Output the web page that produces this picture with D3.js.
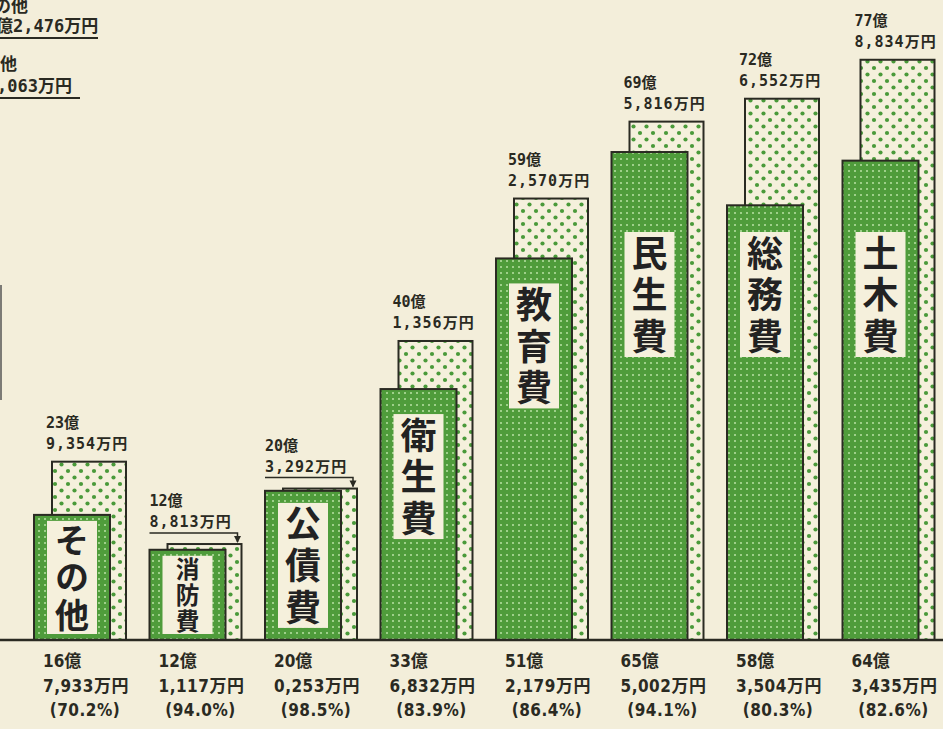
<!DOCTYPE html>
<html>
<head>
<meta charset="utf-8">
<script src="https://cdn.jsdelivr.net/npm/d3@7"></script>
<style>
	body { margin: 0; background: #f3eeda; overflow: hidden; }
	svg { display: block; }
	.val { font-family: "DejaVu Sans Mono", "Noto Sans CJK JP", sans-serif; font-weight: 700; font-size: 15px; fill: #2a2a22; }
	.cut { font-family: "DejaVu Sans Mono", "Noto Sans CJK JP", sans-serif; font-weight: 700; font-size: 17px; fill: #2a2a22; }
	.bottom { font-family: "DejaVu Sans Condensed", "DejaVu Sans", "Noto Sans CJK JP", sans-serif; font-stretch: condensed; font-weight: 700; font-size: 17px; fill: #2a2a22; }
	.cat { font-family: "Noto Sans CJK JP", sans-serif; font-weight: 700; fill: #222; writing-mode: vertical-rl; }
</style>
</head>
<body>
<div id="chart"></div>
<script>
// values in 万円
const categories = ["その他", "消防費", "公債費", "衛生費", "教育費", "民生費", "総務費", "土木費"];
const budget = [239354, 128813, 203292, 401356, 592570, 695816, 726552, 778834];
const actual = [167933, 121117, 200253, 336832, 512179, 655002, 583504, 643435];
const rates = ["70.2", "94.0", "98.5", "83.9", "86.4", "94.1", "80.3", "82.6"];

// labels of the neighbouring chart, cut off at the left edge
const cutTop = ["の他", "億2,476万円"];
const cutSecond = ["他", ",063万円"];

const width = 943;
const height = 729;
const baseY = 640;
const ink = "#2a2a22";
const green = "#4f9c3b";

const data = categories.map((c, i) => ({name: c, budget: budget[i], actual: actual[i], rate: rates[i]}));

const x = d3.scaleBand().domain(categories).range([34, 34 + 8 * 115.5]).padding(0);
const y = d3.scaleLinear().domain([0, 800000]).range([baseY, baseY - 596]);

const barW = 76;
const budgetOffset = 18;
const budgetW = 74;

const oku = (v) => `${Math.floor(v / 10000)}億`;
const man = (v) => {
	const s = String(v % 10000).padStart(4, "0");
	return `${s[0]},${s.slice(1)}万円`;
};

const svg = d3.select("#chart")
	.append("svg")
	.attr("width", width)
	.attr("height", height);

svg.append("rect").attr("width", width).attr("height", height).attr("fill", "#f3eeda");

const defs = svg.append("defs");

// coarse green dots for the budget bars
const big = defs.append("pattern")
	.attr("id", "bigDots")
	.attr("patternUnits", "userSpaceOnUse")
	.attr("width", 13)
	.attr("height", 13);
big.append("rect").attr("width", 13).attr("height", 13).attr("fill", "#f5f0dc");
big.append("circle").attr("cx", 3).attr("cy", 3).attr("r", 2.1).attr("fill", "#4a9a3a");
big.append("circle").attr("cx", 9.5).attr("cy", 9.5).attr("r", 2.1).attr("fill", "#4a9a3a");

// fine light dots on the solid green
const small = defs.append("pattern")
	.attr("id", "smallDots")
	.attr("patternUnits", "userSpaceOnUse")
	.attr("width", 6)
	.attr("height", 6);
small.append("rect").attr("width", 6).attr("height", 6).attr("fill", green);
small.append("circle").attr("cx", 3).attr("cy", 3).attr("r", 1).attr("fill", "#b9e2a4");

// budget bars (behind)
svg.selectAll(".budget")
	.data(data)
	.enter()
	.append("rect")
	.attr("class", "budget")
	.attr("x", (d) => x(d.name) + budgetOffset)
	.attr("y", (d) => y(d.budget))
	.attr("width", budgetW)
	.attr("height", (d) => baseY - y(d.budget))
	.attr("fill", "url(#bigDots)")
	.attr("stroke", ink)
	.attr("stroke-width", 2);

// actual bars
svg.selectAll(".actual")
	.data(data)
	.enter()
	.append("rect")
	.attr("class", "actual")
	.attr("x", (d) => x(d.name))
	.attr("y", (d) => y(d.actual))
	.attr("width", barW)
	.attr("height", (d) => baseY - y(d.actual))
	.attr("fill", "url(#smallDots)")
	.attr("stroke", ink)
	.attr("stroke-width", 2);

// category name boxes
const boxH = (d) => Math.min(baseY - y(d.actual) - 12, 125);
const boxTop = (d) => {
	const barH = baseY - y(d.actual);
	return Math.max(y(d.actual) + Math.min(25, (barH - boxH(d)) / 2), 232);
};

const cats = svg.selectAll(".catbox")
	.data(data)
	.enter()
	.append("g")
	.attr("class", "catbox");

cats.append("rect")
	.attr("x", (d) => x(d.name) + 13)
	.attr("y", boxTop)
	.attr("width", barW - 26)
	.attr("height", boxH)
	.attr("fill", "#f5f0dc");

// vertical name, one text per bar, spread over the box
cats.each(function (d) {
	const h = boxH(d);
	const n = Array.from(d.name).length;
	const fs = Math.min(36, h / 3.3);
	const gap = h / n - fs;
	d3.select(this)
		.append("text")
		.attr("class", "cat")
		.attr("x", x(d.name) + barW / 2)
		.attr("y", boxTop(d) + h / 2 + gap / 2)
		.attr("text-anchor", "middle")
		.attr("letter-spacing", gap)
		.style("font-size", `${fs}px`)
		.text(d.name);
});

// budget labels above the bars
const close = (d) => y(d.actual) - y(d.budget) < 10;

const tops = svg.selectAll(".toplabel")
	.data(data)
	.enter()
	.append("g")
	.attr("class", "toplabel");

tops.each(function (d) {
	const g = d3.select(this);
	const top = y(d.budget);
	let lx, base2;
	if (close(d)) {
		lx = x(d.name);
		const lineY = top - 11;
		base2 = lineY - 6;
		const ax = x(d.name) + budgetOffset + budgetW - 4;
		g.append("path")
			.attr("d", `M${lx},${lineY} H${ax} V${top - 2}`)
			.attr("fill", "none")
			.attr("stroke", ink)
			.attr("stroke-width", 1.5);
		g.append("path")
			.attr("d", `M${ax - 3.5},${top - 8} L${ax + 3.5},${top - 8} L${ax},${top - 1} Z`)
			.attr("fill", ink);
	} else {
		lx = x(d.name) + budgetOffset - 6;
		base2 = top - 13;
	}
	g.append("text").attr("class", "val").attr("x", lx).attr("y", base2 - 21).text(oku(d.budget));
	g.append("text").attr("class", "val").attr("x", lx).attr("y", base2).attr("letter-spacing", 1).text(man(d.budget));
});

// baseline
svg.append("line")
	.attr("x1", 0)
	.attr("x2", width)
	.attr("y1", baseY)
	.attr("y2", baseY)
	.attr("stroke", ink)
	.attr("stroke-width", 2.5);

// actual amounts and execution rate under the axis
const bottoms = svg.selectAll(".bottomlabel")
	.data(data)
	.enter()
	.append("g")
	.attr("class", "bottomlabel");

bottoms.append("text").attr("class", "bottom").attr("x", (d) => x(d.name) + 9).attr("y", 667).text((d) => oku(d.actual));
bottoms.append("text").attr("class", "bottom").attr("x", (d) => x(d.name) + 9).attr("y", 692).attr("letter-spacing", 0.5).text((d) => man(d.actual));
bottoms.append("text").attr("class", "bottom").attr("x", (d) => x(d.name) + 51).attr("y", 716)
	.attr("text-anchor", "middle").attr("letter-spacing", 0.5).text((d) => `(${d.rate}%)`);

// the neighbouring chart's clipped labels
svg.append("text").attr("class", "cut").attr("x", -6).attr("y", 12).text(cutTop[0]);
svg.append("text").attr("class", "cut").attr("x", -4).attr("y", 32).text(cutTop[1]);
svg.append("line").attr("x1", 0).attr("x2", 98).attr("y1", 38).attr("y2", 38).attr("stroke", ink).attr("stroke-width", 2);
svg.append("text").attr("class", "cut").attr("x", 0).attr("y", 70).text(cutSecond[0]);
svg.append("text").attr("class", "cut").attr("x", -3).attr("y", 92).text(cutSecond[1]);
svg.append("line").attr("x1", 0).attr("x2", 80).attr("y1", 98).attr("y2", 98).attr("stroke", ink).attr("stroke-width", 2);
svg.append("line").attr("x1", 1).attr("x2", 1).attr("y1", 285).attr("y2", 400).attr("stroke", "#555").attr("stroke-width", 1.5);
</script>
</body>
</html>
